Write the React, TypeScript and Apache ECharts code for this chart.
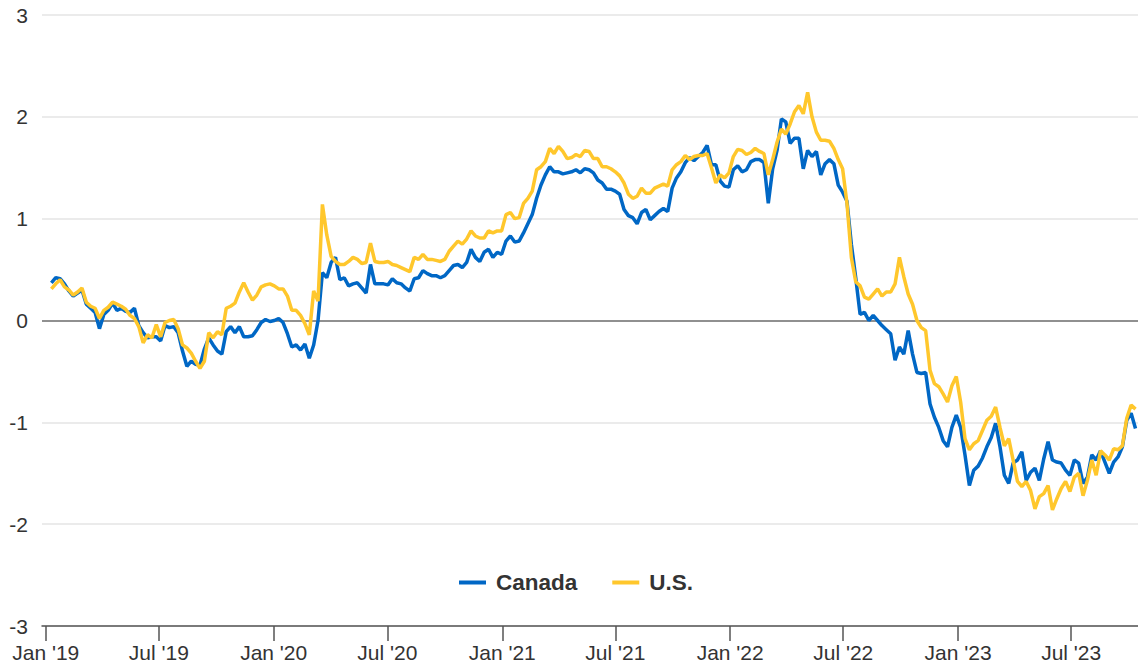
import React, { useEffect, useRef } from 'react';
import * as echarts from 'echarts';

// Weekly observations, first one on 2019-01-10
const START_YEAR = 2019;
const START_MONTH = 0;
const START_DAY = 10;
const STEP_DAYS = 7;

const seriesNames = ['Canada', 'U.S.'];
const seriesColors = ['#0067c5', '#ffc72c'];
const monthLabels = ['Jan', 'Feb', 'Mar', 'Apr', 'May', 'Jun', 'Jul', 'Aug', 'Sep', 'Oct', 'Nov', 'Dec'];
const yTicks = [-3, -2, -1, 0, 1, 2, 3];

const canada = [
  0.37, 0.42, 0.41, 0.36, 0.29, 0.24, 0.27, 0.30, 0.16, 0.12,
  0.08, -0.08, 0.06, 0.10, 0.17, 0.10, 0.12, 0.09, 0.08, 0.12,
  -0.05, -0.12, -0.17, -0.16, -0.16, -0.20, -0.05, -0.07, -0.06, -0.12,
  -0.30, -0.45, -0.40, -0.43, -0.44, -0.28, -0.17, -0.24, -0.30, -0.33,
  -0.11, -0.06, -0.12, -0.06, -0.16, -0.16, -0.15, -0.09, -0.02, 0.01,
  -0.01, 0.00, 0.02, -0.02, -0.13, -0.26, -0.24, -0.29, -0.23, -0.37,
  -0.24, 0.00, 0.47, 0.42, 0.57, 0.62, 0.40, 0.42, 0.34, 0.36,
  0.37, 0.32, 0.27, 0.55, 0.36, 0.36, 0.36, 0.35, 0.41, 0.37,
  0.36, 0.32, 0.29, 0.41, 0.42, 0.49, 0.46, 0.44, 0.44, 0.42,
  0.44, 0.49, 0.54, 0.55, 0.52, 0.57, 0.70, 0.62, 0.58, 0.67,
  0.70, 0.62, 0.67, 0.65, 0.78, 0.83, 0.77, 0.78, 0.86, 0.95,
  1.04, 1.20, 1.33, 1.43, 1.51, 1.46, 1.46, 1.44, 1.45, 1.46,
  1.48, 1.45, 1.49, 1.48, 1.45, 1.38, 1.35, 1.29, 1.29, 1.27,
  1.24, 1.09, 1.03, 1.01, 0.95, 1.06, 1.09, 0.99, 1.03, 1.07,
  1.10, 1.07, 1.30, 1.40, 1.46, 1.55, 1.60, 1.57, 1.61, 1.65,
  1.72, 1.53, 1.53, 1.37, 1.32, 1.31, 1.48, 1.52, 1.46, 1.48,
  1.56, 1.58, 1.58, 1.55, 1.15, 1.49, 1.67, 1.98, 1.95, 1.74,
  1.79, 1.79, 1.49, 1.67, 1.61, 1.66, 1.43, 1.54, 1.58, 1.54,
  1.33, 1.26, 1.17, 0.75, 0.42, 0.06, 0.08, 0.00, 0.05, 0.00,
  -0.05, -0.09, -0.13, -0.39, -0.26, -0.33, -0.10, -0.33, -0.51, -0.52,
  -0.51, -0.82, -0.95, -1.05, -1.18, -1.24, -1.05, -0.93, -1.05, -1.32,
  -1.62, -1.47, -1.43, -1.35, -1.24, -1.15, -1.01, -1.24, -1.52, -1.60,
  -1.40, -1.37, -1.29, -1.57, -1.49, -1.45, -1.57, -1.36, -1.19, -1.37,
  -1.39, -1.40, -1.47, -1.52, -1.37, -1.40, -1.60, -1.54, -1.32, -1.37,
  -1.28, -1.39, -1.50, -1.39, -1.34, -1.24, -0.98, -0.91, -1.06
];

const us = [
  0.31, 0.36, 0.40, 0.33, 0.30, 0.25, 0.28, 0.32, 0.18, 0.14,
  0.12, 0.02, 0.10, 0.13, 0.18, 0.16, 0.14, 0.11, 0.05, 0.02,
  -0.06, -0.22, -0.14, -0.17, -0.04, -0.16, -0.02, 0.00, 0.01, -0.08,
  -0.24, -0.27, -0.32, -0.40, -0.47, -0.40, -0.12, -0.17, -0.11, -0.14,
  0.12, 0.14, 0.17, 0.28, 0.37, 0.28, 0.20, 0.25, 0.33, 0.35,
  0.36, 0.34, 0.31, 0.31, 0.24, 0.10, 0.10, 0.05, -0.03, -0.14,
  0.29, 0.19, 1.14, 0.84, 0.63, 0.58, 0.55, 0.55, 0.58, 0.62,
  0.60, 0.56, 0.57, 0.76, 0.58, 0.57, 0.57, 0.58, 0.55, 0.54,
  0.52, 0.50, 0.48, 0.62, 0.60, 0.65, 0.60, 0.60, 0.59, 0.58,
  0.60, 0.68, 0.73, 0.78, 0.75, 0.80, 0.88, 0.83, 0.81, 0.81,
  0.88, 0.86, 0.88, 0.88, 1.04, 1.06, 1.00, 1.01, 1.15, 1.20,
  1.27, 1.48, 1.51, 1.56, 1.69, 1.64, 1.71, 1.66, 1.59, 1.60,
  1.63, 1.61, 1.67, 1.66, 1.59, 1.59, 1.51, 1.51, 1.49, 1.46,
  1.42, 1.35, 1.24, 1.20, 1.22, 1.30, 1.25, 1.25, 1.30, 1.32,
  1.34, 1.32, 1.48, 1.53, 1.56, 1.62, 1.58, 1.61, 1.62, 1.62,
  1.64, 1.50, 1.35, 1.43, 1.40, 1.45, 1.61, 1.68, 1.67, 1.63,
  1.65, 1.69, 1.66, 1.64, 1.43, 1.58, 1.75, 1.88, 1.83, 1.93,
  2.05, 2.11, 2.03, 2.24, 2.00, 1.85, 1.77, 1.77, 1.76, 1.69,
  1.58, 1.49, 1.15, 0.62, 0.38, 0.34, 0.23, 0.21, 0.26, 0.31,
  0.24, 0.28, 0.28, 0.36, 0.62, 0.43, 0.26, 0.16, 0.00, -0.07,
  -0.10, -0.49, -0.62, -0.65, -0.72, -0.80, -0.64, -0.55, -0.80, -1.16,
  -1.27, -1.21, -1.18, -1.08, -0.98, -0.94, -0.85, -1.05, -1.23, -1.16,
  -1.37, -1.58, -1.63, -1.58, -1.67, -1.85, -1.73, -1.70, -1.62, -1.86,
  -1.75, -1.65, -1.58, -1.68, -1.54, -1.50, -1.72, -1.57, -1.37, -1.52,
  -1.28, -1.32, -1.37, -1.26, -1.27, -1.23, -0.96, -0.83, -0.87
];

const FONT = '"Liberation Sans", Arial, Helvetica, sans-serif';
const ONE_DAY = 24 * 3600 * 1000;

function toSeriesData(values: number[]) {
  return values.map((v, i) => [
    new Date(START_YEAR, START_MONTH, START_DAY + i * STEP_DAYS).getTime(),
    v,
  ]);
}

export default function App() {
  const ref = useRef<HTMLDivElement>(null);

  useEffect(() => {
    if (!ref.current) return;
    const chart = echarts.init(ref.current, null, { renderer: 'svg' });
    const splitColors = yTicks.map((t) => (t === 0 ? '#6b6b6b' : '#e4e4e4'));

    chart.setOption({
      animation: false,
      backgroundColor: '#ffffff',
      grid: { left: 42, right: 0, top: 15, bottom: 38, containLabel: false },
      legend: {
        left: 454,
        top: 566,
        icon: 'rect',
        itemWidth: 27,
        itemHeight: 4,
        itemGap: 35,
        textStyle: {
          fontSize: 22.5,
          fontWeight: 'bold',
          color: '#333333',
          fontFamily: FONT,
          padding: [0, 0, 0, 5],
        },
        data: seriesNames,
      },
      xAxis: {
        type: 'time',
        min: new Date(2018, 11, 26).getTime(),
        max: new Date(2023, 9, 16).getTime(),
        minInterval: ONE_DAY * 182.5,
        maxInterval: ONE_DAY * 182.5,
        splitLine: { show: false },
        axisLine: { show: true, onZero: false, lineStyle: { color: '#555555', width: 1.5 } },
        axisTick: { show: true, length: 15, lineStyle: { color: '#555555', width: 1.5 } },
        axisLabel: {
          fontSize: 21,
          color: '#333333',
          fontFamily: FONT,
          margin: 16,
          showMinLabel: false,
          showMaxLabel: false,
          formatter: (val: number) => {
            const d = new Date(val);
            return monthLabels[d.getMonth()] + " '" + String(d.getFullYear()).slice(2);
          },
        },
      },
      yAxis: {
        type: 'value',
        min: -3,
        max: 3,
        interval: 1,
        axisLine: { show: false },
        axisTick: { show: false },
        axisLabel: { fontSize: 21, color: '#333333', fontFamily: FONT, margin: 14 },
        splitLine: { show: true, lineStyle: { color: splitColors, width: 1.5 } },
      },
      series: [
        {
          name: seriesNames[0],
          type: 'line',
          data: toSeriesData(canada),
          symbol: 'none',
          showSymbol: false,
          color: seriesColors[0],
          lineStyle: { color: seriesColors[0], width: 3.5 },
        },
        {
          name: seriesNames[1],
          type: 'line',
          data: toSeriesData(us),
          symbol: 'none',
          showSymbol: false,
          color: seriesColors[1],
          lineStyle: { color: seriesColors[1], width: 3.5 },
        },
      ],
    });

    return () => chart.dispose();
  }, []);

  return (
    <div
      ref={ref}
      style={{ position: 'absolute', left: 0, top: 0, width: 1138, height: 664 }}
    />
  );
}
